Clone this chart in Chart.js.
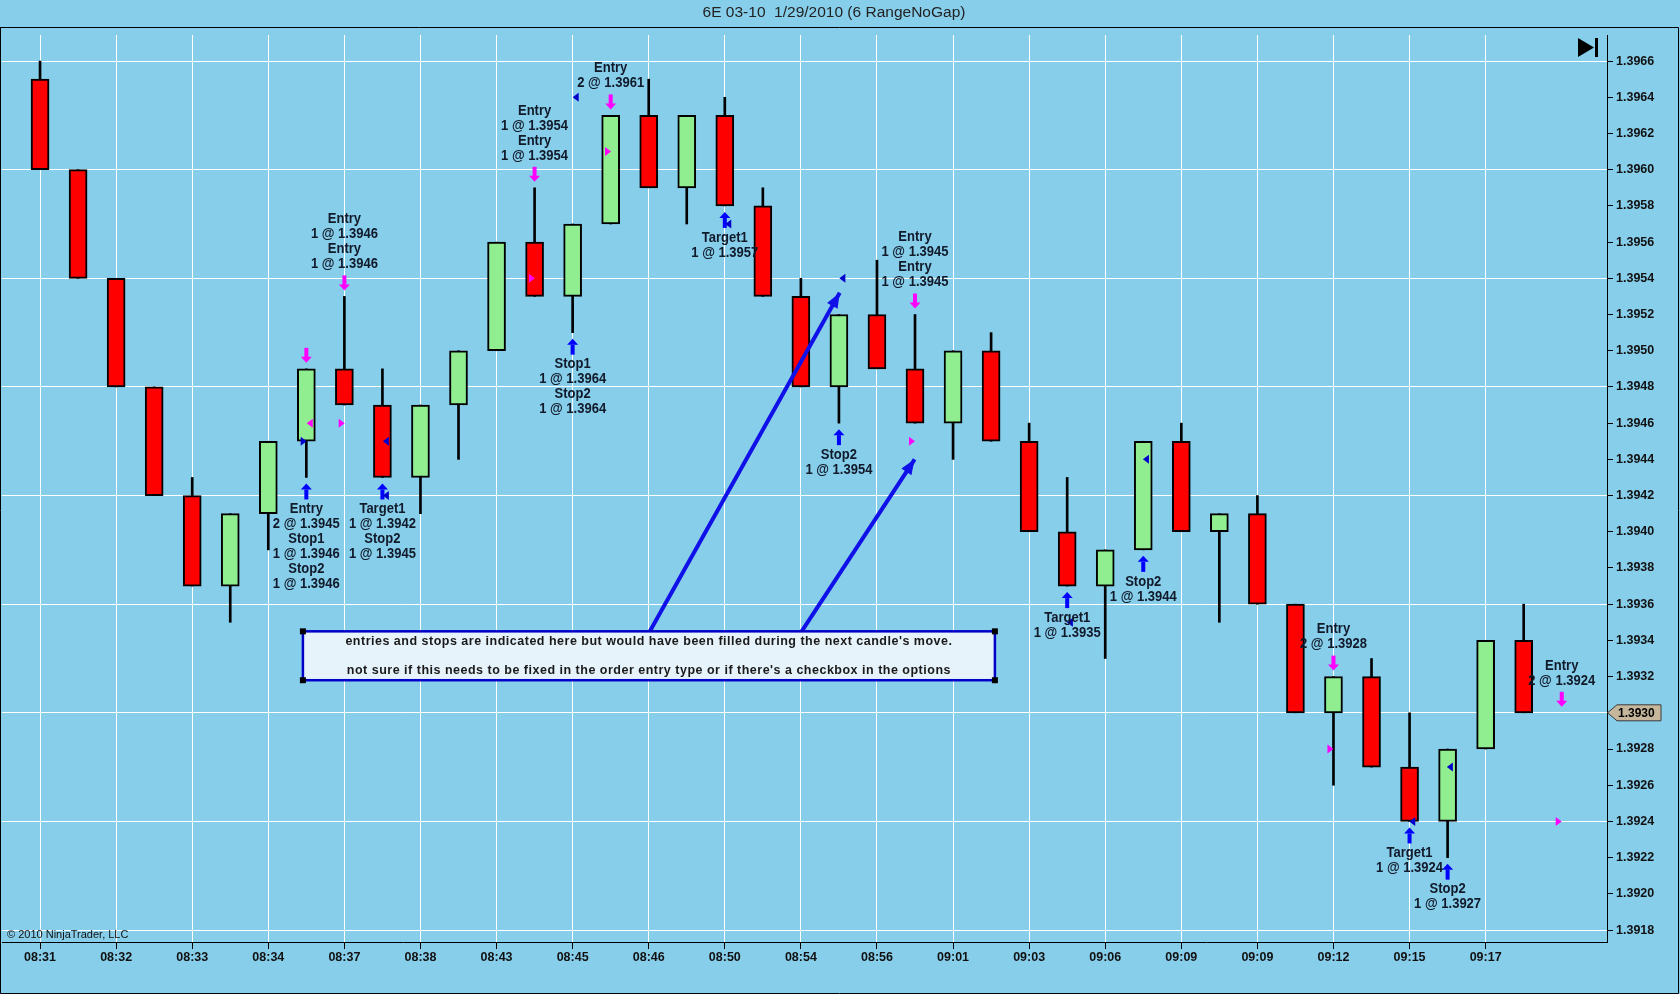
<!DOCTYPE html>
<html><head><meta charset="utf-8">
<script src="https://cdn.jsdelivr.net/npm/chart.js@4.4.1/dist/chart.umd.min.js"></script>
<style>html,body{margin:0;padding:0;background:#87CEEB;overflow:hidden}canvas{display:block}</style>
</head><body>
<canvas id="c" width="1680" height="994"></canvas>
<script>
// ---- data (6E 03-10, 6 RangeNoGap bars) ----
const opens  = [1.3965,1.3960,1.3954,1.3948,1.3942,1.3937,1.3941,1.3945,1.3949,1.3947,1.3943,1.3947,1.3950,1.3956,1.3953,1.3957,1.3963,1.3959,1.3963,1.3958,1.3953,1.3948,1.3952,1.3949,1.3946,1.3950,1.3945,1.3940,1.3937,1.3939,1.3945,1.3940,1.3941,1.3936,1.3930,1.3932,1.3927,1.3924,1.3928,1.3934];
const highs  = [1.3966,1.3960,1.3954,1.3948,1.3943,1.3941,1.3945,1.3949,1.3953,1.3949,1.3947,1.3950,1.3956,1.3959,1.3957,1.3963,1.3965,1.3963,1.3964,1.3959,1.3954,1.3952,1.3955,1.3952,1.3950,1.3951,1.3946,1.3943,1.3939,1.3945,1.3946,1.3941,1.3942,1.3936,1.3932,1.3933,1.3930,1.3928,1.3934,1.3936];
const lows   = [1.3960,1.3954,1.3948,1.3942,1.3937,1.3935,1.3939,1.3943,1.3947,1.3943,1.3941,1.3944,1.3950,1.3953,1.3951,1.3957,1.3959,1.3957,1.3958,1.3953,1.3948,1.3946,1.3949,1.3946,1.3944,1.3945,1.3940,1.3937,1.3933,1.3939,1.3940,1.3935,1.3936,1.3930,1.3926,1.3927,1.3924,1.3922,1.3928,1.3930];
const closes = [1.3960,1.3954,1.3948,1.3942,1.3937,1.3941,1.3945,1.3949,1.3947,1.3943,1.3947,1.3950,1.3956,1.3953,1.3957,1.3963,1.3959,1.3963,1.3958,1.3953,1.3948,1.3952,1.3949,1.3946,1.3950,1.3945,1.3940,1.3937,1.3939,1.3945,1.3940,1.3941,1.3936,1.3930,1.3932,1.3927,1.3924,1.3928,1.3934,1.3930];
const xTickBars   = [0,2,4,6,8,10,12,14,16,18,20,22,24,26,28,30,32,34,36,38];
const xTickLabels = ['08:31','08:32','08:33','08:34','08:37','08:38','08:43','08:45','08:46','08:50','08:54','08:56','09:01','09:03','09:06','09:09','09:09','09:12','09:15','09:17'];
const yTickValues = [1.3918,1.3920,1.3922,1.3924,1.3926,1.3928,1.3930,1.3932,1.3934,1.3936,1.3938,1.3940,1.3942,1.3944,1.3946,1.3948,1.3950,1.3952,1.3954,1.3956,1.3958,1.3960,1.3962,1.3964,1.3966];
const yGridValues = [1.3918,1.3924,1.3930,1.3936,1.3942,1.3948,1.3954,1.3960,1.3966];
const lastPrice = 1.3930;

// order markers: [bar, anchor price]
const sellArrows = [[7,1.3949],[8,1.3953],[13,1.3959],[15,1.3963],[23,1.3952],[34,1.3932],[40,1.3930]];
const buyArrows  = [[7,1.3943],[9,1.3943],[14,1.3951],[18,1.3958],[21,1.3946],[27,1.3937],[29,1.3939],[36,1.3924],[37,1.3922]];
// labels: [bar, anchor price, lines]
const labelsAbove = [
  [8,1.3953,['Entry','1 @ 1.3946','Entry','1 @ 1.3946']],
  [13,1.3959,['Entry','1 @ 1.3954','Entry','1 @ 1.3954']],
  [15,1.3963,['Entry','2 @ 1.3961']],
  [23,1.3952,['Entry','1 @ 1.3945','Entry','1 @ 1.3945']],
  [34,1.3932,['Entry','2 @ 1.3928']],
  [40,1.3930,['Entry','2 @ 1.3924']]
];
const labelsBelow = [
  [7,1.3943,['Entry','2 @ 1.3945','Stop1','1 @ 1.3946','Stop2','1 @ 1.3946']],
  [9,1.3943,['Target1','1 @ 1.3942','Stop2','1 @ 1.3945']],
  [14,1.3951,['Stop1','1 @ 1.3964','Stop2','1 @ 1.3964']],
  [18,1.3958,['Target1','1 @ 1.3957']],
  [21,1.3946,['Stop2','1 @ 1.3954']],
  [27,1.3937,['Target1','1 @ 1.3935']],
  [29,1.3939,['Stop2','1 @ 1.3944']],
  [36,1.3924,['Target1','1 @ 1.3924']],
  [37,1.3922,['Stop2','1 @ 1.3927']]
];
// fills: [x (bar units), price, side ('s' sell / 'b' buy), direction ('L' / 'R')]
const fillMarks = [
  [7.09,1.3946,'s','L'],[6.93,1.3945,'b','R'],[7.93,1.3946,'s','R'],[9.09,1.3945,'b','L'],[9.09,1.3942,'b','L'],
  [12.93,1.3954,'s','R'],[14.08,1.3964,'b','L'],[14.93,1.3961,'s','R'],[18.09,1.3957,'b','L'],
  [21.09,1.3954,'b','L'],[22.92,1.3945,'s','R'],[27.07,1.3935,'b','L'],[29.07,1.3944,'b','L'],
  [33.92,1.3928,'s','R'],[36.07,1.3924,'b','L'],[37.06,1.3927,'b','L'],[39.92,1.3924,'s','R']
];
const noteLine1 = [{x:16.03,y:1.39345},{x:21.02,y:1.39532}];
const noteLine2 = [{x:20.02,y:1.39345},{x:22.99,y:1.39440}];
const noteBox = {x0:6.91, x1:25.10, yTop:1.39345, yBottom:1.39318};
const noteText = ["entries and stops are indicated here but would have been filled during the next candle's move.",
                  "not sure if this needs to be fixed in the order entry type or if there's a checkbox in the options"];
const titleText = '6E 03-10  1/29/2010 (6 RangeNoGap)';

const FONT = "'Liberation Sans', Arial, sans-serif";
const idx = opens.map((_, i) => i);

function arrowHead(ctx, x0, y0, x1, y1, len, hw, color) {
  const a = Math.atan2(y1 - y0, x1 - x0);
  ctx.save(); ctx.fillStyle = color; ctx.beginPath();
  ctx.moveTo(x1, y1);
  ctx.lineTo(x1 - len*Math.cos(a) + hw*Math.sin(a), y1 - len*Math.sin(a) - hw*Math.cos(a));
  ctx.lineTo(x1 - len*Math.cos(a) - hw*Math.sin(a), y1 - len*Math.sin(a) + hw*Math.cos(a));
  ctx.closePath(); ctx.fill(); ctx.restore();
}
function vArrow(ctx, cx, tipY, dir, color) { // dir +1 points down, -1 points up
  ctx.save(); ctx.fillStyle = color;
  const baseY = tipY - dir*15;
  const headY = tipY - dir*6;
  ctx.fillRect(cx - 2, Math.min(baseY, headY), 4, Math.abs(headY - baseY) + 1);
  ctx.beginPath(); ctx.moveTo(cx - 5.5, headY); ctx.lineTo(cx + 5.5, headY); ctx.lineTo(cx, tipY); ctx.closePath(); ctx.fill();
  ctx.restore();
}
function condText(ctx, t, x, y) {
  ctx.save(); ctx.translate(x, y); ctx.scale(0.93, 1); ctx.fillText(t, 0, 0); ctx.restore();
}

const annotations = {
  id: 'annotations',
  beforeDraw(chart) {
    const ctx = chart.ctx;
    ctx.save(); ctx.fillStyle = '#87CEEB'; ctx.fillRect(0, 0, chart.width, chart.height); ctx.restore();
  },
  afterDatasetsDraw(chart) {
    const ctx = chart.ctx, xs = chart.scales.x, ys = chart.scales.y;
    const px = v => xs.getPixelForValue(v), py = v => ys.getPixelForValue(v);
    [noteLine1, noteLine2].forEach(l => arrowHead(ctx, px(l[0].x), py(l[0].y), px(l[1].x), py(l[1].y), 15, 6, '#1010E8'));
    sellArrows.forEach(([b, p]) => vArrow(ctx, px(b), py(p) - 6, 1, '#FF00FF'));
    buyArrows.forEach(([b, p]) => vArrow(ctx, px(b), py(p) + 6, -1, '#0000FF'));
    fillMarks.forEach(([b, p, s, d]) => {
      const x = px(b), y = py(p);
      ctx.save(); ctx.fillStyle = s === 's' ? '#FF00FF' : '#0000CC'; ctx.beginPath();
      if (d === 'L') { ctx.moveTo(x - 3, y); ctx.lineTo(x + 3, y - 4.5); ctx.lineTo(x + 3, y + 4.5); }
      else { ctx.moveTo(x + 3, y); ctx.lineTo(x - 3, y - 4.5); ctx.lineTo(x - 3, y + 4.5); }
      ctx.closePath(); ctx.fill(); ctx.restore();
    });
    ctx.save();
    ctx.font = 'bold 14px ' + FONT; ctx.fillStyle = '#111a2a'; ctx.textAlign = 'center'; ctx.textBaseline = 'middle';
    labelsAbove.forEach(([b, p, lines]) => {
      const x = px(b), last = py(p) - 6 - 15 - 11;
      lines.forEach((t, k) => condText(ctx, t, x, last - (lines.length - 1 - k) * 15));
    });
    labelsBelow.forEach(([b, p, lines]) => {
      const x = px(b), first = py(p) + 32;
      lines.forEach((t, k) => condText(ctx, t, x, first + k * 15));
    });
    ctx.restore();
    const bx0 = px(noteBox.x0), bx1 = px(noteBox.x1), by0 = py(noteBox.yTop), by1 = py(noteBox.yBottom);
    ctx.save();
    ctx.fillStyle = '#E6F3FB'; ctx.fillRect(bx0, by0, bx1 - bx0, by1 - by0);
    ctx.strokeStyle = '#0000C8'; ctx.lineWidth = 2.5; ctx.strokeRect(bx0, by0, bx1 - bx0, by1 - by0);
    ctx.fillStyle = '#000';
    [[bx0, by0], [bx1, by0], [bx0, by1], [bx1, by1]].forEach(([x, y]) => ctx.fillRect(x - 3, y - 3, 6, 6));
    ctx.font = 'bold 12.5px ' + FONT; ctx.fillStyle = '#1a1a1a'; ctx.textAlign = 'center'; ctx.textBaseline = 'middle';
    try { ctx.letterSpacing = '0.5px'; } catch (e) {}
    const cx = (bx0 + bx1) / 2;
    ctx.fillText(noteText[0], cx, by0 + 10);
    ctx.fillText(noteText[1], cx, by0 + 39);
    ctx.restore();
  },
  afterDraw(chart) {
    const ctx = chart.ctx, ys = chart.scales.y, ca = chart.chartArea;
    ctx.save();
    ctx.strokeStyle = '#000'; ctx.lineWidth = 1; ctx.beginPath();
    ctx.moveTo(0, 27.5); ctx.lineTo(1678.5, 27.5); ctx.lineTo(1678.5, 993.5); ctx.lineTo(0.5, 993.5); ctx.lineTo(0.5, 27.5);
    ctx.stroke();
    ctx.font = '15.5px ' + FONT; ctx.fillStyle = '#222'; ctx.textAlign = 'center'; ctx.textBaseline = 'middle';
    ctx.fillText(titleText, 834, 13);
    ctx.font = '11px ' + FONT; ctx.fillStyle = '#111'; ctx.textAlign = 'left';
    ctx.fillText('\u00A9 2010 NinjaTrader, LLC', 7, ca.bottom - 7);
    ctx.fillStyle = '#000'; ctx.beginPath();
    ctx.moveTo(1578, 38); ctx.lineTo(1578, 57); ctx.lineTo(1594, 47.5); ctx.closePath(); ctx.fill();
    ctx.fillRect(1595, 38, 3, 19);
    const y = ys.getPixelForValue(lastPrice), x0 = ca.right;
    ctx.beginPath();
    ctx.moveTo(x0 + 0.5, y); ctx.lineTo(x0 + 10, y - 8); ctx.lineTo(x0 + 54, y - 8); ctx.lineTo(x0 + 54, y + 8); ctx.lineTo(x0 + 10, y + 8); ctx.closePath();
    ctx.fillStyle = '#C6B79C'; ctx.fill(); ctx.strokeStyle = '#3a3a3a'; ctx.stroke();
    ctx.fillStyle = '#000'; ctx.font = 'bold 12px ' + FONT; ctx.textAlign = 'left';
    ctx.fillText(lastPrice.toFixed(4), x0 + 11, y + 0.5);
    ctx.restore();
  }
};

new Chart(document.getElementById('c'), {
  type: 'bar',
  data: {
    datasets: [
      { type: 'line', data: noteLine1, borderColor: '#1010E8', borderWidth: 4, pointRadius: 0, order: 0 },
      { type: 'line', data: noteLine2, borderColor: '#1010E8', borderWidth: 4, pointRadius: 0, order: 0 },
      { label: 'body', data: idx.map(i => ({ x: i, y: [opens[i], closes[i]] })),
        backgroundColor: idx.map(i => closes[i] >= opens[i] ? '#90EE90' : '#FF0000'),
        borderColor: '#000', borderWidth: 2, borderSkipped: false, barThickness: 18, grouped: false, order: 1 },
      { label: 'wick', data: idx.map(i => ({ x: i, y: [lows[i], highs[i]] })),
        backgroundColor: '#000', borderWidth: 0, barThickness: 2, grouped: false, order: 2 }
    ]
  },
  options: {
    responsive: false, animation: false, devicePixelRatio: 1, events: [],
    layout: { padding: { left: 2, right: 2, top: 35, bottom: 0 } },
    plugins: { legend: { display: false }, tooltip: { enabled: false }, title: { display: false } },
    scales: {
      x: {
        type: 'linear', min: -1, max: 41.19, offset: false,
        afterBuildTicks: s => { s.ticks = xTickBars.map(v => ({ value: v })); },
        afterFit: s => { s.height = 52; },
        ticks: { autoSkip: false, maxRotation: 0, padding: 1, color: '#111',
          font: { family: FONT, size: 12.5, weight: 'bold' },
          callback: v => xTickLabels[xTickBars.indexOf(v)] },
        grid: { offset: false, color: '#FFFFFF', lineWidth: 1, tickColor: '#000', tickLength: 7 },
        border: { display: true, color: '#000', width: 1 }
      },
      y: {
        position: 'right', min: 1.391734, max: 1.396744,
        afterBuildTicks: s => { s.ticks = yTickValues.map(v => ({ value: v })); },
        afterFit: s => { s.width = 71; },
        ticks: { autoSkip: false, padding: 3, color: '#111',
          font: { family: FONT, size: 12.5, weight: 'bold' },
          callback: v => Number(v).toFixed(4) },
        grid: {
          color: c => (c.tick && yGridValues.some(g => Math.abs(g - c.tick.value) < 1e-7)) ? '#FFFFFF' : 'rgba(0,0,0,0)',
          lineWidth: 1, tickColor: '#000', tickLength: 6
        },
        border: { display: true, color: '#000', width: 1 }
      }
    }
  },
  plugins: [annotations]
});
</script>
</body></html>
